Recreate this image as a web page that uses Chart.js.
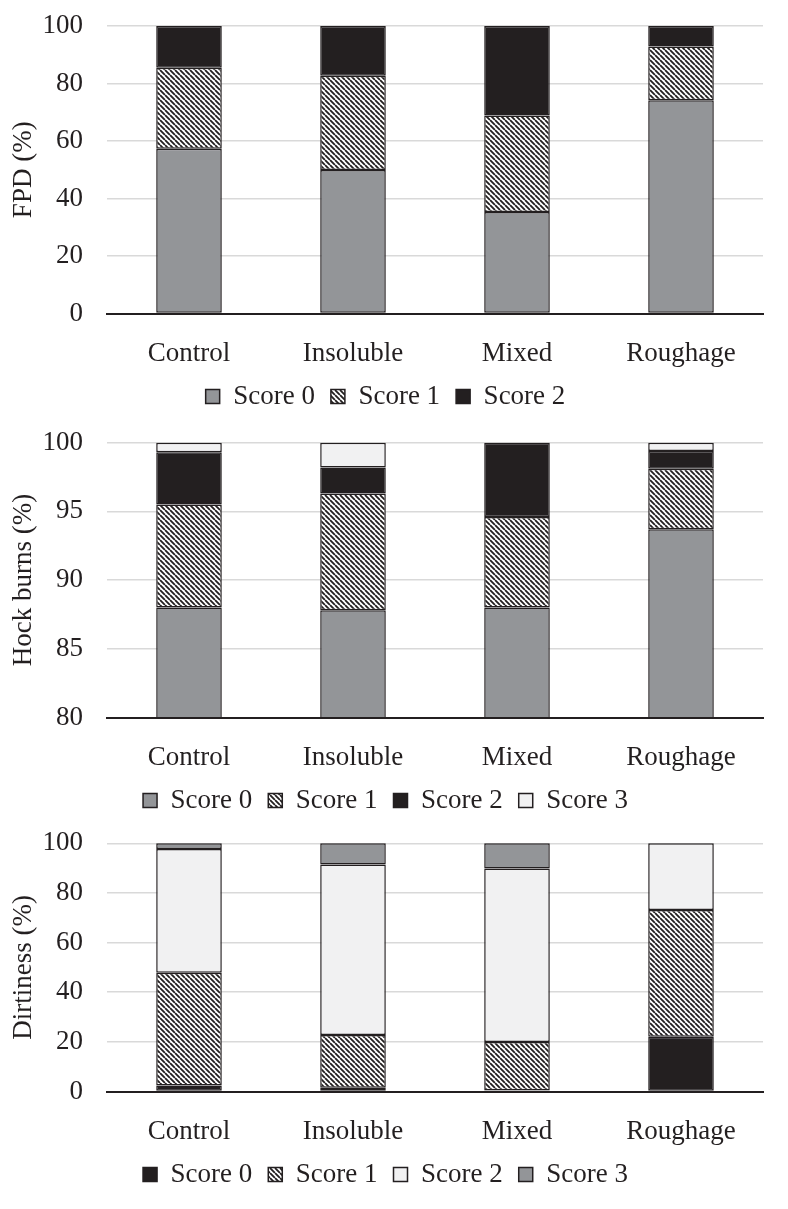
<!DOCTYPE html>
<html>
<head>
<meta charset="utf-8">
<script src="https://cdn.jsdelivr.net/npm/chart.js@4.4.1/dist/chart.umd.min.js"></script>
<style>
    html, body { margin: 0; padding: 0; background: #ffffff; }
    .panel { position: absolute; left: 0; width: 788px; }
</style>
</head>
<body>
<div class="panel" style="top:0px;height:420px"><canvas id="fpdChart"></canvas></div>
<div class="panel" style="top:420px;height:404px"><canvas id="hockChart"></canvas></div>
<div class="panel" style="top:823px;height:375px"><canvas id="dirtChart"></canvas></div>
<script>
const categories = ['Control', 'Insoluble', 'Mixed', 'Roughage'];

// FPD (%)
const fpdScore0 = [57.3, 49.9, 35.3, 74.2];
const fpdScore1 = [28.2, 32.8, 33.6, 18.7];
const fpdScore2 = [14.5, 17.3, 31.1, 7.1];

// Hock burns (%)
const hockScore0 = [88.0, 87.8, 88.0, 93.7];
const hockScore1 = [7.5, 8.5, 6.6, 4.4];
const hockScore2 = [3.8, 1.9, 5.4, 1.3];
const hockScore3 = [0.7, 1.8, 0, 0.6];

// Dirtiness (%)
const dirtScore0 = [2.4, 1.5, 0.5, 22.1];
const dirtScore1 = [45.4, 21.3, 19.4, 51.0];
const dirtScore2 = [49.9, 68.7, 69.9, 26.9];
const dirtScore3 = [2.3, 8.5, 10.2, 0];

const ink = '#231f20';
const grey = '#939598';
const light = '#f1f1f2';

Chart.defaults.font.family = "'Liberation Serif', 'Times New Roman', serif";
Chart.defaults.font.size = 27;
Chart.defaults.color = ink;

function makeHatch() {
    const size = 5;
    const c = document.createElement('canvas');
    c.width = size;
    c.height = size;
    const ctx = c.getContext('2d');
    ctx.fillStyle = '#ffffff';
    ctx.fillRect(0, 0, size, size);
    ctx.strokeStyle = ink;
    ctx.lineWidth = 1.8;
    ctx.beginPath();
    for (let k = -1; k <= 1; k++) {
        ctx.moveTo(k * size, 0);
        ctx.lineTo(k * size + size, size);
    }
    ctx.stroke();
    return ctx.createPattern(c, 'repeat');
}

const hatch = makeHatch();

function series(label, data, fill) {
    return {
        label: label,
        data: data,
        backgroundColor: fill,
        borderColor: ink,
        borderWidth: 1.5,
        borderSkipped: false,
        barPercentage: 0.4,
        categoryPercentage: 1,
        clip: { left: false, right: false, top: 4, bottom: 0 }
    };
}

function stackedChart(id, title, datasets, yMin, yStep, topPad) {
    new Chart(document.getElementById(id), {
        type: 'bar',
        data: {
            labels: categories,
            datasets: datasets
        },
        options: {
            responsive: true,
            maintainAspectRatio: false,
            animation: false,
            layout: {
                padding: { top: topPad, right: 25, bottom: 0, left: 8 }
            },
            plugins: {
                tooltip: { enabled: false },
                legend: {
                    position: 'bottom',
                    labels: {
                        boxWidth: 14,
                        boxHeight: 14,
                        padding: 16,
                        color: ink
                    }
                }
            },
            scales: {
                x: {
                    stacked: true,
                    grid: { display: false },
                    border: { display: true, color: ink, width: 2, z: 1 },
                    ticks: { padding: 16, maxRotation: 0, autoSkip: false },
                    afterFit: (scale) => { scale.height = 53.5; }
                },
                y: {
                    stacked: true,
                    min: yMin,
                    max: 100,
                    // gap between labels and plot comes from an invisible tick mark
                    ticks: { stepSize: yStep, padding: 0 },
                    grid: {
                        color: '#d9d9d9',
                        lineWidth: 1.5,
                        drawTicks: true,
                        tickLength: 24,
                        tickColor: 'rgba(0,0,0,0)'
                    },
                    border: { display: false },
                    title: {
                        display: true,
                        text: title,
                        padding: { top: 0, bottom: 0 }
                    },
                    afterFit: (scale) => { scale.width = 99; }
                }
            }
        }
    });
}

stackedChart('fpdChart', 'FPD (%)', [
    series('Score 0', fpdScore0, grey),
    series('Score 1', fpdScore1, hatch),
    series('Score 2', fpdScore2, ink)
], 0, 20, 26);

stackedChart('hockChart', 'Hock burns (%)', [
    series('Score 0', hockScore0, grey),
    series('Score 1', hockScore1, hatch),
    series('Score 2', hockScore2, ink),
    series('Score 3', hockScore3, light)
], 80, 5, 22.7);

stackedChart('dirtChart', 'Dirtiness (%)', [
    series('Score 0', dirtScore0, ink),
    series('Score 1', dirtScore1, hatch),
    series('Score 2', dirtScore2, light),
    series('Score 3', dirtScore3, grey)
], 0, 20, 20.3);
</script>
</body>
</html>
